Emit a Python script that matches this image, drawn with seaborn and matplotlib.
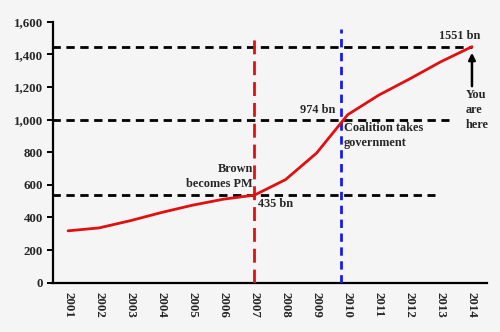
import numpy as np
import pandas as pd
import seaborn as sns
import matplotlib
matplotlib.use("Agg")
import matplotlib.pyplot as plt

years = ["2001", "2002", "2003", "2004", "2005", "2006", "2007",
         "2008", "2009", "2010", "2011", "2012", "2013", "2014"]
debt = [318, 336, 380, 430, 475, 512, 537, 632, 795, 1030, 1150, 1250, 1355, 1447]
y_ticks = [0, 200, 400, 600, 800, 1000, 1200, 1400, 1600]
brown_level = 537
coalition_level = 996
now_level = 1447
brown_label = "435 bn"
coalition_label = "974 bn"
now_label = "1551 bn"

sns.set_style("white")
plt.rcParams["font.family"] = ["Liberation Serif", "DejaVu Serif"]
plt.rcParams["font.weight"] = "bold"

bg = "#f6f5f5"
fig = plt.figure(figsize=(5.0, 3.32), dpi=100, facecolor=bg)
ax = fig.add_axes([0.105, 0.1485, 0.87, 0.786], facecolor=bg)

df = pd.DataFrame({"pos": np.arange(len(years)), "debt": debt})
sns.lineplot(data=df, x="pos", y="debt", ax=ax, color="#e01010", linewidth=2.0,
             zorder=5)

ax.set_xlim(-0.5, len(years) - 0.5)
ax.set_ylim(0, 1600)

# reference levels
ax.plot([-0.5, 11.8], [brown_level] * 2, color="black", lw=2, dashes=(3, 2))
ax.plot([-0.5, 12.25], [coalition_level] * 2, color="black", lw=2, dashes=(3, 2))
ax.plot([-0.5, 13.0], [now_level] * 2, color="black", lw=2, dashes=(3, 2))

# events
ax.plot([6.0, 6.0], [0, 1530], color="#e01010", lw=2, dashes=(5, 2.5), zorder=4)
ax.plot([8.78, 8.78], [0, 1555], color="#1a1aee", lw=2, dashes=(3, 2), zorder=4)

fs = 8.8
ax.text(5.95, 650, "Brown\nbecomes PM", ha="right", va="center", fontsize=fs,
        fontweight="bold", linespacing=1.3)
ax.text(6.1, 485, brown_label, ha="left", va="center", fontsize=fs, fontweight="bold")
ax.text(8.6, 1060, coalition_label, ha="right", va="center", fontsize=fs,
        fontweight="bold")
ax.text(8.88, 905, "Coalition takes\ngovernment", ha="left", va="center",
        fontsize=fs, fontweight="bold", linespacing=1.35)
ax.text(12.6, 1510, now_label, ha="center", va="center", fontsize=fs,
        fontweight="bold")
ax.text(12.8, 1060, "You\nare\nhere", ha="left", va="center", fontsize=fs,
        fontweight="bold", linespacing=1.35)
ax.annotate("", xy=(13.0, 1410), xytext=(13.0, 1205),
            arrowprops=dict(arrowstyle="-|>", color="black", lw=1.8,
                            mutation_scale=10, shrinkA=0, shrinkB=0))

# axes styling
for s in ["top", "right"]:
    ax.spines[s].set_visible(False)
for s in ["left", "bottom"]:
    ax.spines[s].set_color("black")
    ax.spines[s].set_linewidth(1.6)

ax.set_yticks(y_ticks)
ax.set_yticklabels([f"{v:,}" for v in y_ticks], fontsize=9.3, fontweight="bold")
ax.set_xticks(np.arange(len(years)))
ax.set_xticklabels(years, rotation=270, fontsize=9.3, fontweight="bold")
ax.set_xticks(np.arange(-0.5, len(years)), minor=True)
ax.tick_params(axis="x", which="major", length=0, pad=7)
ax.tick_params(axis="x", which="minor", length=4, width=1.4, color="black",
               direction="out")
ax.tick_params(axis="y", length=4, width=1.4, color="black", direction="out",
               left=True, pad=3)
ax.set_xlabel("")
ax.set_ylabel("")

fig.savefig("out.png", dpi=100, facecolor=bg)
